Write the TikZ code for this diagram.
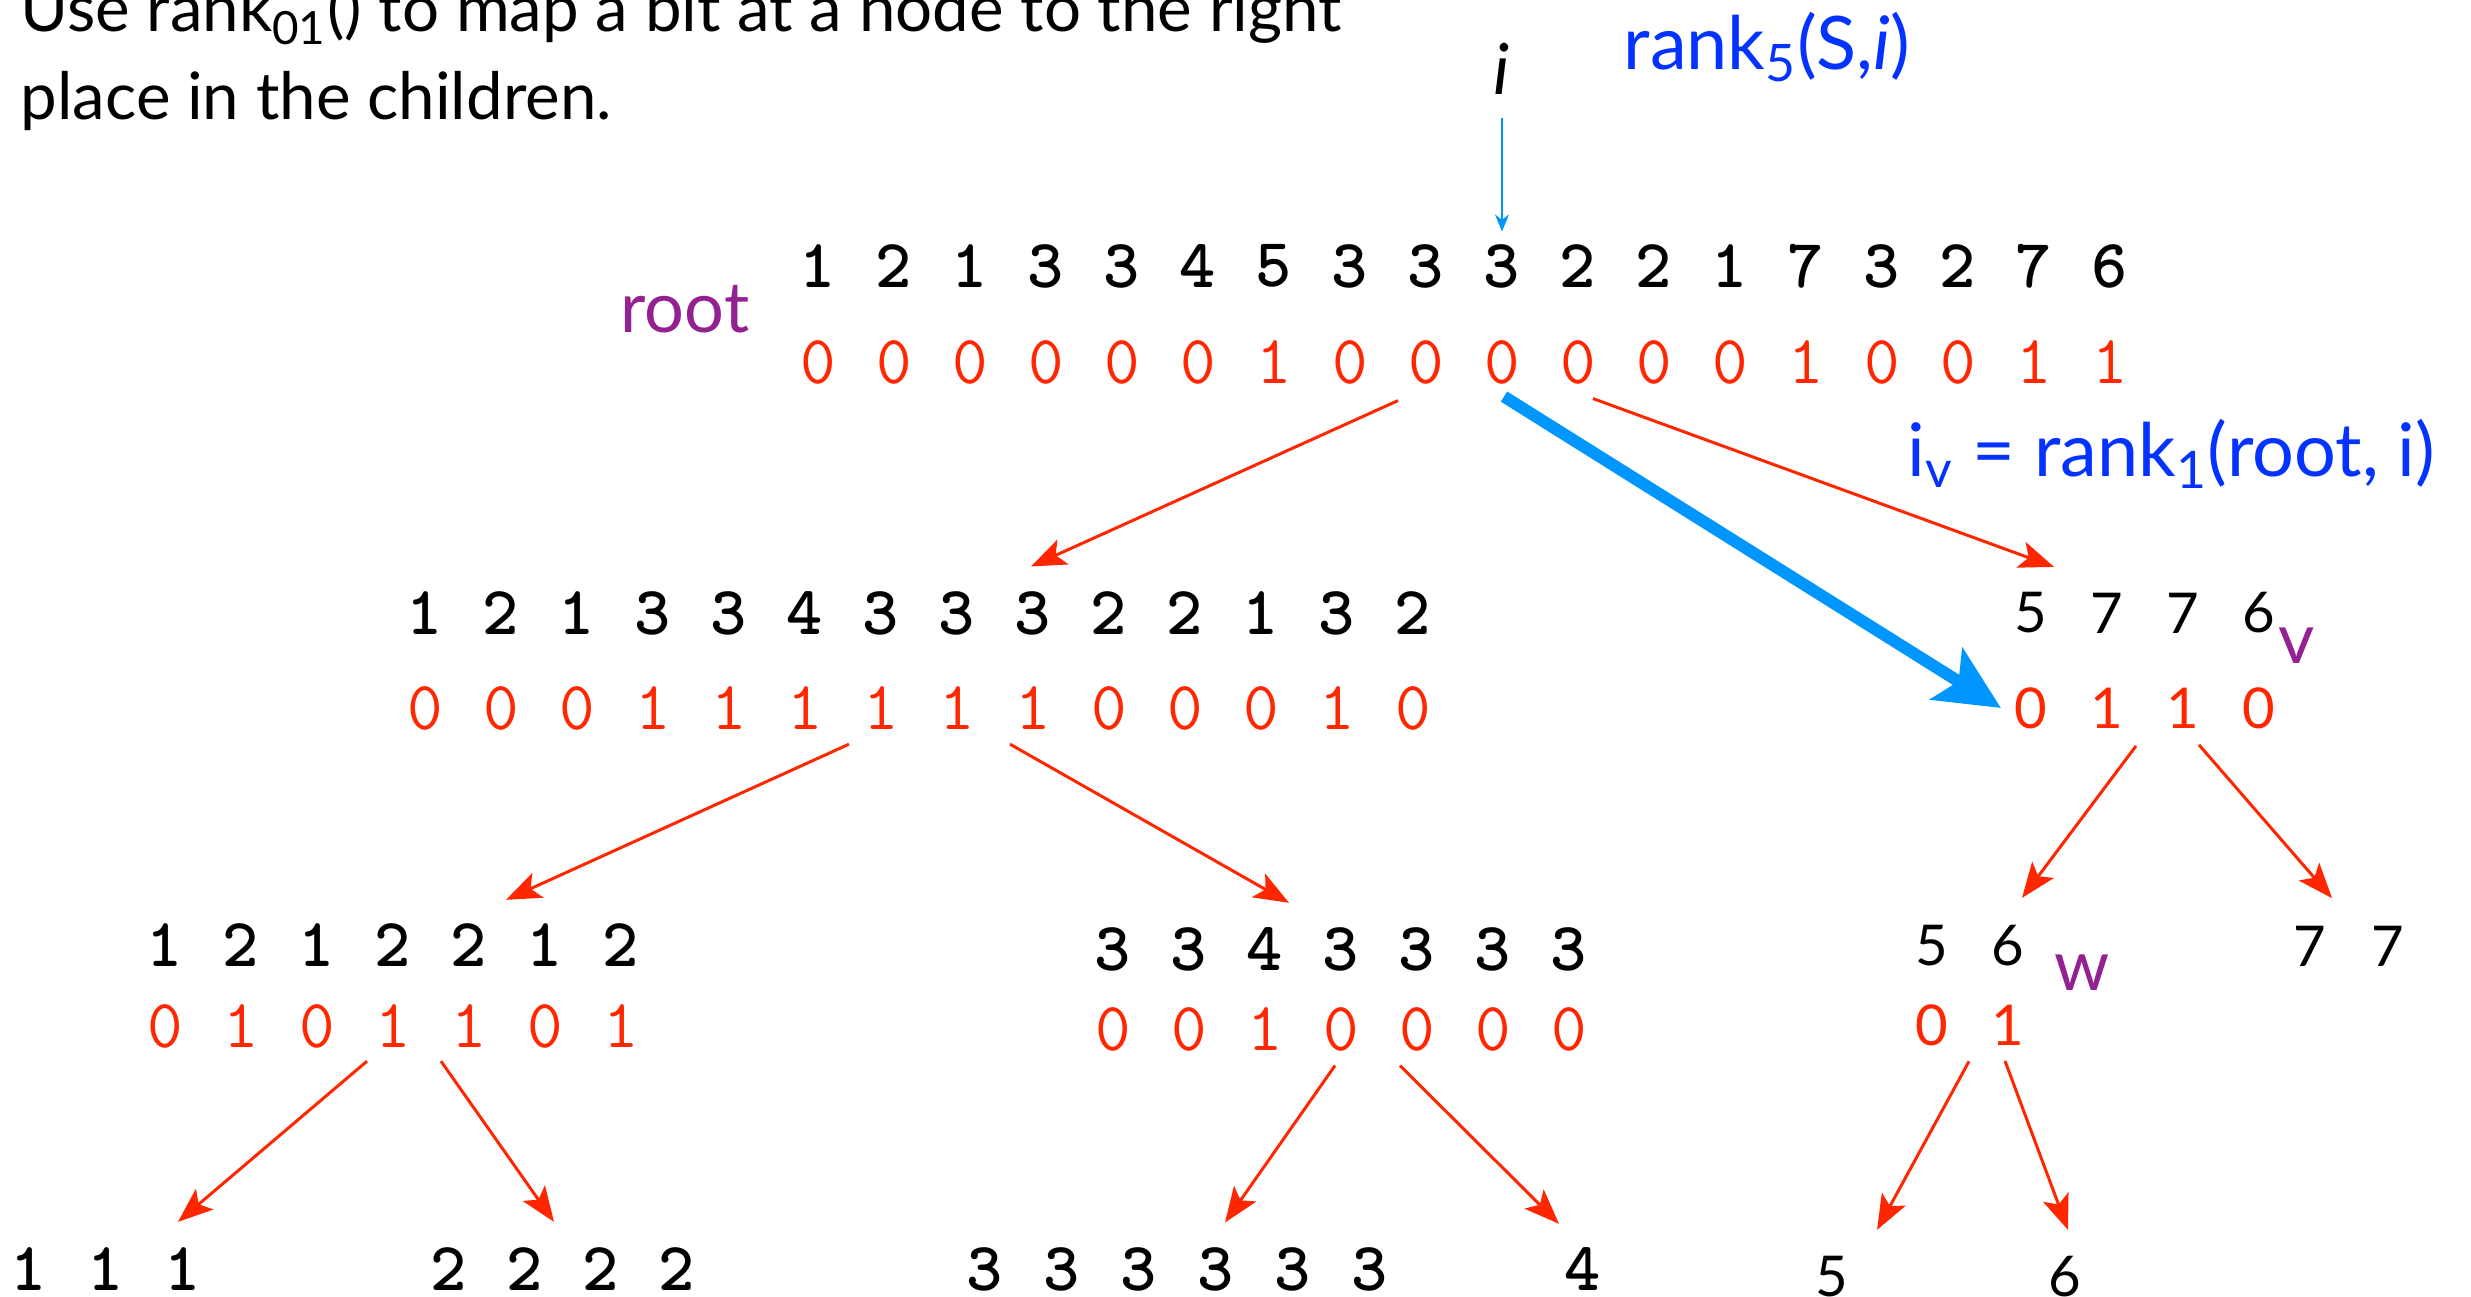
\documentclass[tikz,border=0pt]{standalone}
\usepackage{fontspec}
\setmainfont{Lato}
\usetikzlibrary{arrows.meta}

\definecolor{bitred}{RGB}{255,38,0}
\definecolor{tagpurple}{RGB}{148,33,146}
\definecolor{rankblue}{RGB}{4,51,255}
\definecolor{skyblue}{RGB}{0,150,255}

% a row of symbols, one node each: style, name, first x, step, y, list
\newcommand{\seqrow}[6]{%
  \foreach \d [count=\k] in {#6}
    \node[#1] (#2-\k) at ({#3+#4*(\k-1)},#5) {\d};
}

\tikzset{
  seq/.style={font=\ttfamily\bfseries\fontsize{19.6}{22}\selectfont,inner sep=0pt},
  bits/.style={font=\ttfamily\fontsize{19.6}{22}\selectfont,inner sep=0pt,text=bitred},
  sseq/.style={font=\fontsize{16}{18}\selectfont,inner sep=0pt},
  sbits/.style={sseq,text=bitred},
  tag/.style={font=\fontsize{20}{24}\selectfont,text=tagpurple,inner sep=0pt,anchor=base west},
  rank/.style={font=\fontsize{21}{24}\selectfont,text=rankblue,inner sep=0pt,anchor=base west},
  child/.style={bitred,line width=0.85pt,-{Stealth[length=0.35cm,width=0.27cm,inset=0.08cm]}},
}

\begin{document}
\begin{tikzpicture}[x=0.01cm,y=-0.01cm]
\useasboundingbox (0,0) rectangle (2471,1297);

\node[anchor=base west,inner sep=0pt,font=\fontsize{18.6}{24}\selectfont] (head1) at (20,32)
  {Use rank\textsubscript{01}() to map a bit at a node to the right};
\node[anchor=base west,inner sep=0pt,font=\fontsize{18.6}{24}\selectfont] (head2) at (20,120)
  {place in the children.};

% the query position
\node[anchor=base,inner sep=0pt,font=\itshape\fontsize{20}{24}\selectfont] (i) at (1502,95) {i};
\node[rank] (rank5) at (1623,70) {rank\textsubscript{5}(S,\textit{i})};

% root
\seqrow{seq}{rt}{818}{76}{266}{1,2,1,3,3,4,5,3,3,3,2,2,1,7,3,2,7,6}
\seqrow{bits}{rb}{818}{76}{362}{0,0,0,0,0,0,1,0,0,0,0,0,0,1,0,0,1,1}
\node[tag] (root) at (620,333) {root};

% first level
\seqrow{seq}{lt}{425}{76}{613}{1,2,1,3,3,4,3,3,3,2,2,1,3,2}
\seqrow{bits}{lb}{425}{76}{708}{0,0,0,1,1,1,1,1,1,0,0,0,1,0}
\seqrow{sseq}{vt}{2031}{76}{613}{5,7,7,6}
\seqrow{sbits}{vb}{2031}{76}{708}{0,1,1,0}
\node[tag] (v) at (2278,663) {v};
\node[rank] (iv) at (1907,477) {i\textsubscript{v} = rank\textsubscript{1}(root, i)};

% second level
\seqrow{seq}{llt}{165}{76}{945}{1,2,1,2,2,1,2}
\seqrow{bits}{llb}{165}{76}{1026}{0,1,0,1,1,0,1}
\seqrow{seq}{lrt}{1113}{76}{949}{3,3,4,3,3,3,3}
\seqrow{bits}{lrb}{1113}{76}{1029}{0,0,1,0,0,0,0}
\seqrow{sseq}{wt}{1932}{76}{946}{5,6}
\seqrow{sbits}{wb}{1932}{76}{1025}{0,1}
\node[tag] (w) at (2054,990) {w};
\seqrow{sseq}{vr}{2310}{78}{946}{7,7}

% leaves
\seqrow{seq}{la}{29}{77}{1269}{1,1,1}
\seqrow{seq}{lb2}{449}{76}{1269}{2,2,2,2}
\seqrow{seq}{lc}{985}{77}{1269}{3,3,3,3,3,3}
\node[seq] (l4) at (1583,1269) {4};
\node[sseq] (l5) at (1832,1277) {5};
\node[sseq] (l6) at (2065,1277) {6};

% mapping i down the tree
\draw[skyblue,line width=0.6pt,-{Stealth[length=0.17cm,width=0.14cm]}]
  ([yshift=-.22cm]i.south) -- ([yshift=.12cm]rt-10.north);
\draw[skyblue,line width=3.4pt,-{Stealth[length=0.64cm,width=0.6cm,inset=0.14cm]}]
  ([xshift=.02cm,yshift=-.12cm]rb-10.south) -- ([xshift=-.13cm]vb-1.west);

% children
\draw[child] ([xshift=-.28cm,yshift=-.16cm]rb-9.south) -- ([xshift=-.02cm,yshift=.24cm]lt-9.north);
\draw[child] ([xshift=.15cm,yshift=-.14cm]rb-11.south) -- ([xshift=.23cm,yshift=.25cm]vt-1.north);
\draw[child] ([xshift=-.32cm,yshift=-.14cm]lb-7.south) -- ([xshift=-.39cm,yshift=.23cm]llt-6.north);
\draw[child] ([xshift=-.23cm,yshift=-.14cm]lb-9.south) -- ([xshift=.24cm,yshift=.24cm]lrt-3.north);
\draw[child] ([xshift=.29cm,yshift=-.17cm]vb-2.south) -- ([xshift=.14cm,yshift=.27cm]wt-2.north);
\draw[child] ([xshift=.16cm,yshift=-.16cm]vb-3.south) -- ([xshift=.22cm,yshift=.27cm]vr-1.north);
\draw[child] ([xshift=-.26cm,yshift=-.13cm]llb-4.south) -- ([xshift=-.05cm,yshift=.25cm]la-3.north);
\draw[child] ([xshift=-.28cm,yshift=-.13cm]llb-5.south) -- ([xshift=.29cm,yshift=.25cm]lb2-2.north);
\draw[child] ([xshift=-.06cm,yshift=-.14cm]lrb-4.south) -- ([xshift=.09cm,yshift=.24cm]lc-4.north);
\draw[child] ([xshift=-.17cm,yshift=-.14cm]lrb-5.south) -- ([xshift=-.24cm,yshift=.23cm]l4.north);
\draw[child] ([xshift=.37cm,yshift=-.15cm]wb-1.south) -- ([xshift=.45cm,yshift=.26cm]l5.north);
\draw[child] ([xshift=-.03cm,yshift=-.15cm]wb-2.south) -- ([xshift=.03cm,yshift=.26cm]l6.north);
\end{tikzpicture}
\end{document}
